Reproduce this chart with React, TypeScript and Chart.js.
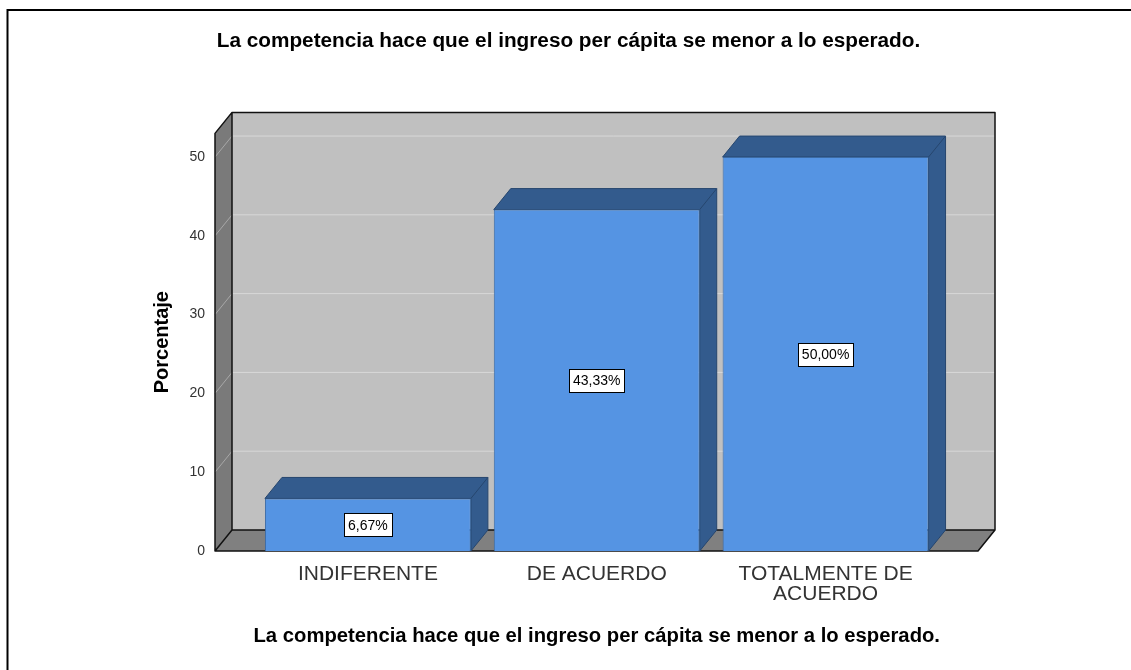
import React, { useEffect, useRef } from 'react';
import { Chart, registerables } from 'chart.js';

Chart.register(...registerables);

// ---- data ----
const categories: (string | string[])[] = ['INDIFERENTE', 'DE ACUERDO', ['TOTALMENTE DE', 'ACUERDO']];
const percentages: number[] = [6.67, 43.33, 50.0];
const yTickValues: number[] = [0, 10, 20, 30, 40, 50];
const yMax = 53;
const chartTitle = 'La competencia hace que el ingreso per cápita se menor a lo esperado.';
const xAxisTitle = 'La competencia hace que el ingreso per cápita se menor a lo esperado.';
const yAxisTitle = 'Porcentaje';

// ---- style ----
const FONT = '"Liberation Sans", Arial, Helvetica, sans-serif';
const DX = 17;
const DY = -21;
const FRAME_LEFT_EXT = 38.5;
const FRAME_RIGHT_EXT = 38;

const fmt = (v: number) => v.toFixed(2).replace('.', ',') + '%';

const threeD = {
  id: 'threeD',
  beforeDraw(chart: any) {
    const ctx = chart.ctx;
    ctx.save();
    ctx.fillStyle = '#fff';
    ctx.fillRect(0, 0, chart.width, chart.height);
    ctx.strokeStyle = '#000';
    ctx.lineWidth = 2;
    ctx.beginPath();
    ctx.moveTo(7.5, chart.height);
    ctx.lineTo(7.5, 10);
    ctx.lineTo(chart.width, 10);
    ctx.stroke();
    ctx.restore();
  },
  beforeDatasetsDraw(chart: any) {
    const { ctx, chartArea, scales } = chart;
    const y = scales.y;
    const fl = chartArea.left - FRAME_LEFT_EXT;
    const fr = chartArea.right + FRAME_RIGHT_EXT;
    const bot = y.getPixelForValue(0);
    const top = chartArea.top;
    ctx.save();
    // back wall
    ctx.fillStyle = '#c0c0c0';
    ctx.fillRect(fl + DX, top + DY, fr - fl, bot - top);
    // grid lines on back wall
    yTickValues.forEach((v) => {
      if (v === 0) return;
      const py = y.getPixelForValue(v);
      ctx.strokeStyle = '#d8d8d8';
      ctx.lineWidth = 1;
      ctx.beginPath();
      ctx.moveTo(fl + DX, py + DY);
      ctx.lineTo(fr + DX, py + DY);
      ctx.stroke();
    });
    // left wall
    ctx.fillStyle = '#7a7a7a';
    ctx.beginPath();
    ctx.moveTo(fl, bot);
    ctx.lineTo(fl, top);
    ctx.lineTo(fl + DX, top + DY);
    ctx.lineTo(fl + DX, bot + DY);
    ctx.closePath();
    ctx.fill();
    yTickValues.forEach((v) => {
      if (v === 0) return;
      const py = y.getPixelForValue(v);
      ctx.strokeStyle = '#a8a8a8';
      ctx.lineWidth = 1;
      ctx.beginPath();
      ctx.moveTo(fl, py);
      ctx.lineTo(fl + DX, py + DY);
      ctx.stroke();
    });
    // floor
    ctx.fillStyle = '#808080';
    ctx.beginPath();
    ctx.moveTo(fl, bot);
    ctx.lineTo(fr, bot);
    ctx.lineTo(fr + DX, bot + DY);
    ctx.lineTo(fl + DX, bot + DY);
    ctx.closePath();
    ctx.fill();
    // outlines
    ctx.strokeStyle = '#111';
    ctx.lineWidth = 1.5;
    ctx.lineJoin = 'round';
    ctx.beginPath();
    ctx.moveTo(fl, bot);
    ctx.lineTo(fl, top);
    ctx.lineTo(fl + DX, top + DY);
    ctx.lineTo(fr + DX, top + DY);
    ctx.lineTo(fr + DX, bot + DY);
    ctx.lineTo(fr, bot);
    ctx.lineTo(fl, bot);
    ctx.lineTo(fl + DX, bot + DY);
    ctx.lineTo(fl + DX, top + DY);
    ctx.moveTo(fl + DX, bot + DY);
    ctx.lineTo(fr + DX, bot + DY);
    ctx.stroke();

    // bar side and top faces
    const meta = chart.getDatasetMeta(0);
    meta.data.forEach((bar: any) => {
      const { x, y: by, base, width } = bar.getProps(['x', 'y', 'base', 'width'], true);
      const l = x - width / 2;
      const r = x + width / 2;
      ctx.fillStyle = '#335b8d';
      ctx.strokeStyle = '#26466e';
      ctx.lineWidth = 1;
      ctx.beginPath();
      ctx.moveTo(l, by);
      ctx.lineTo(l + DX, by + DY);
      ctx.lineTo(r + DX, by + DY);
      ctx.lineTo(r + DX, base + DY);
      ctx.lineTo(r, base);
      ctx.lineTo(r, by);
      ctx.closePath();
      ctx.fill();
      ctx.stroke();
      ctx.beginPath();
      ctx.moveTo(r, by);
      ctx.lineTo(r + DX, by + DY);
      ctx.stroke();
    });
    ctx.restore();
  },
  afterDatasetsDraw(chart: any) {
    const { ctx } = chart;
    const meta = chart.getDatasetMeta(0);
    ctx.save();
    ctx.font = `14px ${FONT}`;
    ctx.textAlign = 'center';
    ctx.textBaseline = 'middle';
    meta.data.forEach((bar: any, i: number) => {
      const { x, y: by, base } = bar.getProps(['x', 'y', 'base'], true);
      const cy = (by + base) / 2;
      const text = fmt(percentages[i]);
      const w = ctx.measureText(text).width + 8;
      const h = 23;
      const bx = Math.round(x - w / 2) + 0.5;
      const byy = Math.round(cy - h / 2) + 0.5;
      ctx.fillStyle = '#fff';
      ctx.fillRect(bx, byy, Math.round(w), h);
      ctx.strokeStyle = '#000';
      ctx.lineWidth = 1;
      ctx.strokeRect(bx, byy, Math.round(w), h);
      ctx.fillStyle = '#000';
      ctx.fillText(text, x, cy + 1);
    });
    ctx.restore();
  },
};

export default function App() {
  const ref = useRef<HTMLCanvasElement | null>(null);
  useEffect(() => {
    document.body.style.margin = '0';
    document.body.style.overflow = 'hidden';
    const canvas = ref.current;
    if (!canvas) return;
    const chart = new Chart(canvas, {
      type: 'bar',
      data: {
        labels: categories as any,
        datasets: [
          {
            data: percentages,
            backgroundColor: '#5594e3',
            borderColor: '#3b6aa3',
            borderWidth: 1,
            categoryPercentage: 1,
            barPercentage: 0.9,
          },
        ],
      },
      options: {
        responsive: false,
        animation: false,
        devicePixelRatio: 1,
        layout: { padding: { left: 6, right: 0, top: 0, bottom: 0 } },
        plugins: {
          legend: { display: false },
          tooltip: { enabled: false },
          title: {
            display: true,
            text: chartTitle,
            color: '#000',
            font: { family: FONT, size: 20.75, weight: 'bold', lineHeight: 1.2 },
            padding: { top: 28.55, bottom: 79.95 },
          },
        },
        scales: {
          x: {
            grid: { display: false, drawTicks: false },
            border: { display: false },
            ticks: {
              padding: 13,
              color: '#333',
              maxRotation: 0,
              autoSkip: false,
              font: { family: FONT, size: 21, lineHeight: '20px' },
            },
            title: {
              display: true,
              text: xAxisTitle,
              color: '#000',
              font: { family: FONT, size: 20.75, weight: 'bold', lineHeight: 1.2 },
              padding: { top: 0, bottom: 21 },
            },
            afterFit: (s: any) => {
              s.height = 119;
            },
          },
          y: {
            min: 0,
            max: yMax,
            afterBuildTicks: (s: any) => {
              s.ticks = yTickValues.map((v) => ({ value: v }));
            },
            grid: { display: false, drawTicks: false },
            border: { display: false },
            ticks: {
              padding: 48.5,
              color: '#333',
              font: { family: FONT, size: 14 },
            },
            title: {
              display: true,
              text: yAxisTitle,
              color: '#000',
              font: { family: FONT, size: 20, weight: 'bold', lineHeight: 1.2 },
              padding: { top: 144, bottom: 0 },
            },
            afterFit: (s: any) => {
              s.width = 247.5;
            },
          },
          yRight: {
            position: 'right',
            display: true,
            grid: { display: false, drawTicks: false },
            border: { display: false },
            ticks: { display: false },
            afterFit: (s: any) => {
              s.width = 191;
            },
          },
        },
      } as any,
      plugins: [threeD],
    });
    return () => chart.destroy();
  }, []);
  return <canvas ref={ref} width={1131} height={670} style={{ display: 'block' }} />;
}
